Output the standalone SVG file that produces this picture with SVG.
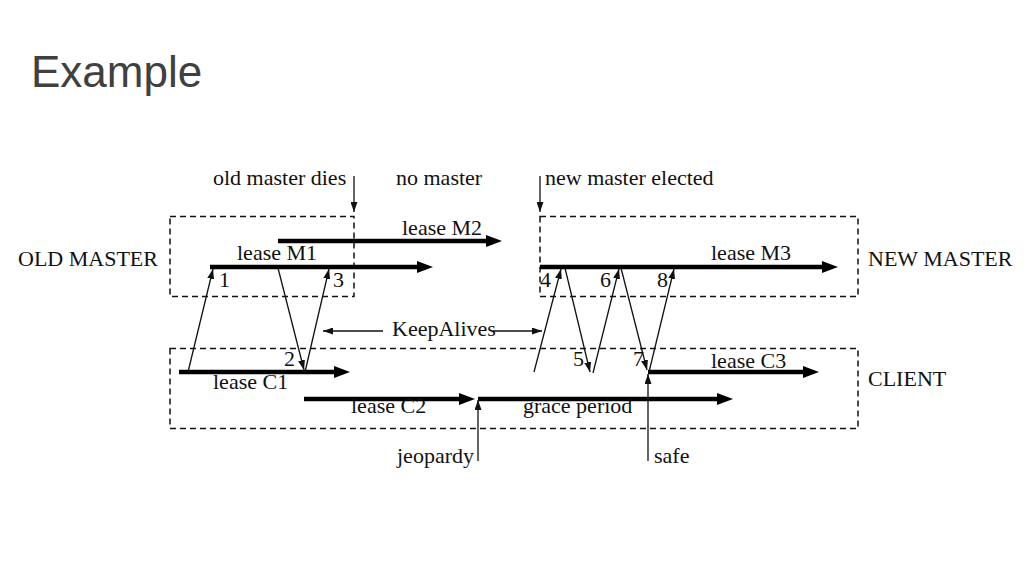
<svg xmlns="http://www.w3.org/2000/svg" width="1024" height="576" viewBox="0 0 1024 576">
  <style>
    .title { font-family: "Liberation Sans", Arial, sans-serif; font-size: 44px; fill: #404040; }
    .t { font-family: "Liberation Serif", "Times New Roman", serif; font-size: 22px; fill: #111; }
    .box { fill: none; stroke: #111; stroke-width: 1.5; stroke-dasharray: 6 4; }
    .thick { stroke: #000; stroke-width: 4.5; fill: none; marker-end: url(#big); }
    .thin { stroke: #111; stroke-width: 1.3; fill: none; marker-end: url(#small); }
  </style>
  <defs>
    <marker id="big" markerUnits="userSpaceOnUse" markerWidth="16" markerHeight="12" viewBox="0 0 16 12" refX="0" refY="6" orient="auto">
      <path d="M0,0 L16,6 L0,12 z" fill="#000"/>
    </marker>
    <marker id="small" markerUnits="userSpaceOnUse" markerWidth="10" markerHeight="7" viewBox="0 0 10 7" refX="10" refY="3.5" orient="auto">
      <path d="M0,0 L10,3.5 L0,7 z" fill="#111"/>
    </marker>
  </defs>
  <rect width="1024" height="576" fill="#fff"/>
  <text class="title" x="31" y="87">Example</text>

  <g id="old-master">
    <rect class="box" x="170" y="216.5" width="184" height="80"/>
    <text class="t" x="18" y="266">OLD MASTER</text>
  </g>
  <g id="new-master">
    <rect class="box" x="540" y="216.5" width="318" height="80"/>
    <text class="t" x="868" y="266">NEW MASTER</text>
  </g>
  <g id="client">
    <rect class="box" x="170" y="348.5" width="688" height="80"/>
    <text class="t" x="868" y="386">CLIENT</text>
  </g>

  <g id="leases">
    <line class="thick" x1="278" y1="241" x2="486" y2="241"/>
    <text class="t" x="402" y="235">lease M2</text>
    <line class="thick" x1="210" y1="267" x2="417" y2="267"/>
    <text class="t" x="237" y="260">lease M1</text>
    <line class="thick" x1="540" y1="267" x2="822" y2="267"/>
    <text class="t" x="711" y="260">lease M3</text>
    <line class="thick" x1="179" y1="372" x2="334" y2="372"/>
    <text class="t" x="213" y="389">lease C1</text>
    <line class="thick" x1="304" y1="399" x2="459" y2="399"/>
    <text class="t" x="351" y="413">lease C2</text>
    <line class="thick" x1="478" y1="399" x2="717" y2="399"/>
    <text class="t" x="523" y="413">grace period</text>
    <line class="thick" x1="648" y1="372" x2="803" y2="372"/>
    <text class="t" x="711" y="368">lease C3</text>
  </g>

  <g id="events">
    <line class="thin" x1="354" y1="176" x2="354" y2="212"/>
    <text class="t" x="213" y="185">old master dies</text>
    <text class="t" x="396" y="185">no master</text>
    <line class="thin" x1="540" y1="176" x2="540" y2="212"/>
    <text class="t" x="545" y="185">new master elected</text>
    <line class="thin" x1="478" y1="461" x2="478" y2="400"/>
    <text class="t" x="397" y="463">jeopardy</text>
    <line class="thin" x1="648" y1="461" x2="648" y2="374"/>
    <text class="t" x="654" y="463">safe</text>
  </g>

  <g id="connectors">
    <line class="thin" x1="188" y1="372" x2="213" y2="269"/>
    <line class="thin" x1="278" y1="268" x2="304" y2="370"/>
    <line class="thin" x1="305" y1="372" x2="329" y2="269"/>
    <line class="thin" x1="534" y1="372" x2="561" y2="269"/>
    <line class="thin" x1="565" y1="268" x2="590" y2="372"/>
    <line class="thin" x1="593" y1="373" x2="619" y2="269"/>
    <line class="thin" x1="621" y1="268" x2="647" y2="370"/>
    <line class="thin" x1="649" y1="372" x2="674" y2="269"/>
    <line class="thin" x1="383" y1="331" x2="323" y2="331"/>
    <line class="thin" x1="493" y1="331" x2="542" y2="331"/>
  </g>

  <g id="labels">
    <text class="t" x="219" y="287">1</text>
    <text class="t" x="284" y="366">2</text>
    <text class="t" x="333" y="287">3</text>
    <text class="t" x="540" y="287">4</text>
    <text class="t" x="573" y="366">5</text>
    <text class="t" x="600" y="287">6</text>
    <text class="t" x="633" y="366">7</text>
    <text class="t" x="657" y="287">8</text>
    <text class="t" x="392" y="336">KeepAlives</text>
  </g>
</svg>
